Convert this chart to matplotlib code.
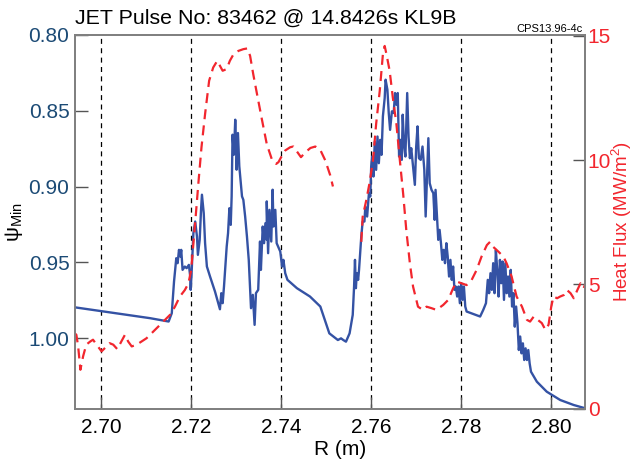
import numpy as np
import matplotlib
matplotlib.use('Agg')
import matplotlib.pyplot as plt

plt.rcParams['font.family'] = ['Liberation Sans', 'DejaVu Sans']
plt.rcParams['mathtext.fontset'] = 'custom'
plt.rcParams['mathtext.rm'] = 'Liberation Sans'
plt.rcParams['mathtext.it'] = 'Liberation Sans:italic'

# psi_min trace (left axis, inverted)
psi_r = [2.6941, 2.7109, 2.7150, 2.7157, 2.7162, 2.7167, 2.7170, 2.7173, 2.7176, 2.7178,
         2.7181, 2.7186, 2.7190, 2.7195, 2.7198, 2.7199, 2.7201, 2.7205, 2.7209, 2.7213,
         2.7215, 2.7219, 2.7222, 2.7224, 2.7228, 2.7231, 2.7235, 2.7242, 2.7253, 2.7264,
         2.7267, 2.7270, 2.7273, 2.7279, 2.7282, 2.7285, 2.7288, 2.7290, 2.7292, 2.7295,
         2.7298, 2.7300, 2.7301, 2.7304, 2.7307, 2.7313, 2.7316, 2.7320, 2.7324, 2.7328,
         2.7331, 2.7333, 2.7337, 2.7341, 2.7344, 2.7349, 2.7353, 2.7355, 2.7359, 2.7362,
         2.7365, 2.7368, 2.7368, 2.7371, 2.7374, 2.7378, 2.7381, 2.7383, 2.7387, 2.7390,
         2.7398, 2.7402, 2.7405, 2.7409, 2.7414, 2.7435, 2.7464, 2.7487, 2.7507, 2.7526,
         2.7533, 2.7538, 2.7544, 2.7552, 2.7559, 2.7562, 2.7564, 2.7566, 2.7568, 2.7571,
         2.7573, 2.7578, 2.7581, 2.7585, 2.7587, 2.7591, 2.7595, 2.7598, 2.7600, 2.7602,
         2.7605, 2.7608, 2.7611, 2.7614, 2.7617, 2.7620, 2.7623, 2.7626, 2.7630, 2.7632,
         2.7636, 2.7639, 2.7642, 2.7646, 2.7650, 2.7653, 2.7656, 2.7659, 2.7662, 2.7665,
         2.7668, 2.7670, 2.7673, 2.7676, 2.7680, 2.7683, 2.7686, 2.7689, 2.7693, 2.7697,
         2.7700, 2.7703, 2.7706, 2.7710, 2.7714, 2.7718, 2.7721, 2.7724, 2.7727, 2.7730,
         2.7734, 2.7738, 2.7741, 2.7743, 2.7747, 2.7749, 2.7752, 2.7755, 2.7758, 2.7761,
         2.7764, 2.7767, 2.7770, 2.7773, 2.7776, 2.7779, 2.7782, 2.7785, 2.7788, 2.7791,
         2.7794, 2.7797, 2.7800, 2.7803, 2.7806, 2.7809, 2.7812, 2.7842, 2.7849, 2.7855,
         2.7859, 2.7862, 2.7865, 2.7868, 2.7871, 2.7874, 2.7877, 2.7880, 2.7883, 2.7886,
         2.7889, 2.7892, 2.7895, 2.7898, 2.7901, 2.7904, 2.7907, 2.7910, 2.7913, 2.7916,
         2.7919, 2.7922, 2.7925, 2.7928, 2.7931, 2.7934, 2.7937, 2.7940, 2.7943, 2.7946,
         2.7949, 2.7952, 2.7955, 2.7968, 2.7990, 2.8020, 2.8050, 2.8076]
psi_min = [0.9797, 0.9869, 0.9891, 0.9836, 0.9627, 0.9473, 0.9506, 0.9418, 0.9462, 0.9418,
           0.9550, 0.9528, 0.9539, 0.9517, 0.9594, 0.9682, 0.9572, 0.9308, 0.9231, 0.9330,
           0.9451, 0.9352, 0.9154, 0.9054, 0.9176, 0.9374, 0.9528, 0.9594, 0.9693, 0.9810,
           0.9704, 0.9770, 0.9660, 0.9396, 0.9308, 0.9143, 0.9253, 0.9065, 0.8658, 0.8790,
           0.8559, 0.8735, 0.8889, 0.8647, 0.8867, 0.9065, 0.9088, 0.9198, 0.9330, 0.9484,
           0.9671, 0.9803, 0.9715, 0.9913, 0.9704, 0.9682, 0.9363, 0.9550, 0.9264, 0.9374,
           0.9242, 0.9352, 0.9098, 0.9440, 0.9154, 0.9363, 0.9021, 0.9264, 0.9154, 0.9374,
           0.9429, 0.9528, 0.9484, 0.9572, 0.9616, 0.9671, 0.9726, 0.9792, 0.9969, 1.0013,
           1.0002, 1.0013, 1.0024, 0.9969, 0.9847, 0.9660, 0.9484, 0.9671, 0.9572, 0.9616,
           0.9550, 0.9330, 0.9231, 0.9231, 0.9132, 0.9198, 0.9044, 0.9066, 0.8868, 0.8802,
           0.8934, 0.8703, 0.8890, 0.8670, 0.8846, 0.8692, 0.8791, 0.8537, 0.8416, 0.8295,
           0.8361, 0.8515, 0.8626, 0.8504, 0.8515, 0.8383, 0.8460, 0.8383, 0.8802, 0.8692,
           0.8824, 0.8526, 0.8725, 0.8802, 0.8383, 0.8670, 0.8813, 0.8747, 0.8868, 0.8989,
           0.8736, 0.8603, 0.8813, 0.8824, 0.8736, 0.8890, 0.9198, 0.8934, 0.8681, 0.8978,
           0.9022, 0.9044, 0.9220, 0.9022, 0.9242, 0.9352, 0.9286, 0.9374, 0.9484, 0.9418,
           0.9506, 0.9374, 0.9462, 0.9594, 0.9484, 0.9616, 0.9528, 0.9682, 0.9660, 0.9726,
           0.9660, 0.9770, 0.9638, 0.9748, 0.9660, 0.9792, 0.9825, 0.9858, 0.9814, 0.9770,
           0.9616, 0.9704, 0.9572, 0.9682, 0.9506, 0.9704, 0.9418, 0.9550, 0.9726, 0.9484,
           0.9638, 0.9495, 0.9748, 0.9506, 0.9704, 0.9594, 0.9726, 0.9550, 0.9792, 0.9704,
           0.9925, 0.9792, 0.9902, 1.0079, 0.9990, 1.0101, 1.0035, 1.0145, 1.0068, 1.0145,
           1.0079, 1.0167, 1.0222, 1.0288, 1.0354, 1.0409, 1.0442, 1.0464]

# heat flux, two segments (gap near 2.752-2.758)
hf_r1 = [2.6941, 2.6945, 2.6949, 2.6954, 2.6960, 2.6967, 2.6976, 2.6982, 2.6990, 2.7001,
         2.7012, 2.7019, 2.7027, 2.7036, 2.7045, 2.7053, 2.7060, 2.7068, 2.7079, 2.7090,
         2.7101, 2.7116, 2.7131, 2.7142, 2.7153, 2.7164, 2.7175, 2.7186, 2.7194, 2.7200,
         2.7205, 2.7210, 2.7216, 2.7223, 2.7231, 2.7240, 2.7249, 2.7258, 2.7264, 2.7270,
         2.7279, 2.7286, 2.7294, 2.7305, 2.7316, 2.7325, 2.7331, 2.7338, 2.7347, 2.7357,
         2.7368, 2.7379, 2.7389, 2.7394, 2.7400, 2.7409, 2.7420, 2.7427, 2.7435, 2.7444,
         2.7454, 2.7465, 2.7476, 2.7487, 2.7498, 2.7509, 2.7515]
hf_1 = [3.03, 2.97, 2.50, 1.56, 2.10, 2.57, 2.70, 2.77, 2.57, 2.30,
        2.50, 2.63, 2.57, 2.39, 2.70, 2.97, 2.70, 2.50, 2.57, 2.70,
        2.83, 3.10, 3.37, 3.57, 3.77, 4.10, 4.51, 4.77, 5.04, 5.57,
        6.64, 7.71, 9.05, 10.52, 11.86, 13.20, 13.73, 14.00, 13.80, 13.60,
        13.67, 14.00, 14.26, 14.40, 14.47, 14.50, 14.20, 13.46, 12.60, 11.66,
        10.65, 10.05, 9.85, 9.92, 10.12, 10.39, 10.52, 10.55, 10.35, 10.12,
        10.32, 10.49, 10.55, 10.41, 9.99, 9.39, 8.94]
hf_r2 = [2.7578, 2.7581, 2.7589, 2.7596, 2.7604, 2.7611, 2.7619, 2.7626, 2.7630, 2.7634,
         2.7641, 2.7648, 2.7656, 2.7663, 2.7671, 2.7678, 2.7686, 2.7693, 2.7704, 2.7715,
         2.7723, 2.7734, 2.7745, 2.7760, 2.7771, 2.7782, 2.7790, 2.7801, 2.7812, 2.7823,
         2.7834, 2.7845, 2.7857, 2.7864, 2.7871, 2.7883, 2.7894, 2.7901, 2.7912, 2.7923,
         2.7935, 2.7946, 2.7953, 2.7961, 2.7970, 2.7979, 2.7987, 2.7994, 2.8000, 2.8005,
         2.8013, 2.8020, 2.8028, 2.8035, 2.8043, 2.8050, 2.8058, 2.8065, 2.8072, 2.8076]
hf_2 = [6.71, 7.71, 8.38, 9.05, 9.99, 11.46, 12.79, 14.26, 14.60, 14.26,
        13.60, 12.53, 11.46, 10.12, 8.65, 7.18, 5.84, 4.91, 4.10, 3.97,
        4.10, 4.04, 3.97, 4.17, 4.37, 4.84, 5.11, 5.04, 4.97, 5.17,
        5.57, 6.11, 6.58, 6.71, 6.51, 6.31, 6.11, 5.84, 5.31, 4.51,
        4.10, 3.57, 3.50, 3.70, 3.57, 3.44, 3.17, 3.37, 4.10, 4.51,
        4.44, 4.51, 4.57, 4.77, 4.64, 4.44, 4.77, 5.04, 4.84, 5.04]

xticks = [2.70, 2.72, 2.74, 2.76, 2.78, 2.80]
psi_ticks = [0.80, 0.85, 0.90, 0.95, 1.00]
hf_ticks = [0, 5, 10, 15]

blue = '#3452a4'
red = '#f2262e'
navy = '#1b4a75'

fig = plt.figure(figsize=(6.35, 4.59), dpi=100)
ax = fig.add_axes([75/635, 1-408.5/459, 510/635, 373.5/459])
ax2 = ax.twinx()

for xv in xticks:
    ax.axvline(xv, color='black', lw=0.9, ls=(0, (4, 3.5)), zorder=1)

ax.plot(psi_r, psi_min, color=blue, lw=1.7, zorder=3)
ax2.plot(hf_r1, hf_1, color=red, lw=1.6, ls=(0, (4.5, 2.8)))
ax2.plot(hf_r2, hf_2, color=red, lw=1.6, ls=(0, (4.5, 2.8)))

ax.set_xlim(2.6942, 2.8075)
ax.set_ylim(1.0465, 0.80)
ax2.set_ylim(0, 15.04)

ax.set_xticks(xticks)
ax.set_xticklabels(['%.2f' % v for v in xticks])
ax.set_yticks(psi_ticks)
ax.set_yticklabels(['%.2f' % v for v in psi_ticks])
ax2.set_yticks(hf_ticks)

ax.tick_params(axis='x', direction='in', length=9, width=1, color='#555555',
               labelsize=15, pad=7)
ax.tick_params(axis='y', direction='in', length=9, width=1, color='#555555',
               labelsize=15, labelcolor=navy, pad=4)
ax2.tick_params(axis='y', direction='in', length=9, width=1, color='#555555',
                labelsize=15, labelcolor=red, pad=2)

for a in (ax, ax2):
    for s in a.spines.values():
        s.set_color('#808080')
        s.set_linewidth(1.3)

ax.set_xlabel('R (m)', fontsize=15)
ax.xaxis.set_label_coords(0.52, -0.085)
ax.set_ylabel(r'ψ$_{\rm Min}$', fontsize=15)
ax.yaxis.set_label_coords(-0.098, 0.5)
ax2.set_ylabel('Heat Flux (MW/m$^2$)', fontsize=13.5, color=red)
ax2.yaxis.set_label_coords(1.049, 0.5)

fig.text(75/635, 1-24/459, 'JET Pulse No: 83462 @ 14.8426s KL9B', fontsize=15.4,
         ha='left', va='baseline')
fig.text(583/635, 1-32/459, 'CPS13.96-4c', fontsize=8, ha='right', va='baseline')

fig.savefig('out.png', dpi=100)
